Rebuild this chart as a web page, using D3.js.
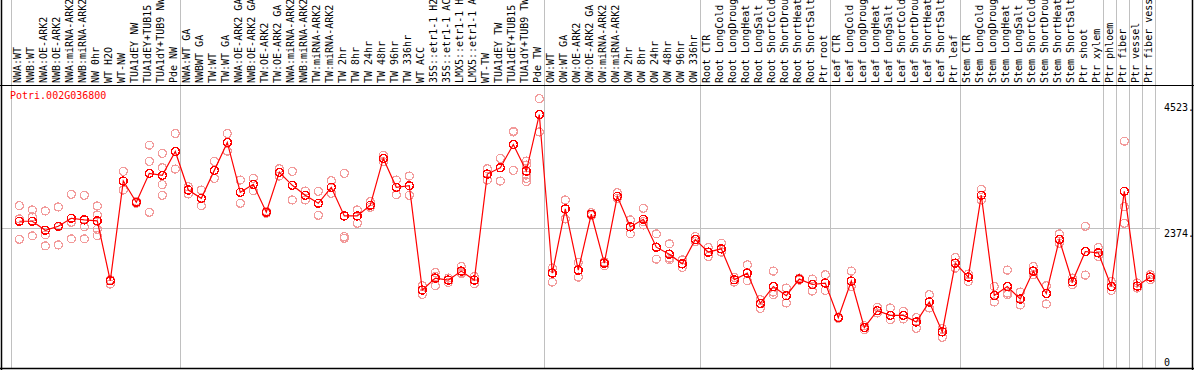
<!DOCTYPE html>
<html>
<head>
<meta charset="utf-8">
<script src="https://cdn.jsdelivr.net/npm/d3@7"></script>
<style>
  body { margin: 0; background: #fff; }
  svg { display: block; font-family: "DejaVu Sans Mono", monospace; }
</style>
</head>
<body>
<div id="chart"></div>
<script>
// Sample labels (shown truncated to 14 characters)
const labels = [
  "NWA:WT", "NWB:WT", "NWA:OE-ARK2", "NWB:OE-ARK2", "NWA:miRNA-ARK2", "NWB:miRNA-ARK2",
  "NW 0hr", "WT H2O", "WT-NW", "TUA1dEY NW", "TUA1dEY+TUB15", "TUA1dY+TUB9 NW", "Pde NW",
  "NWA:WT GA", "NWBWT GA", "TW:WT", "TW:WT GA", "NWA:OE-ARK2 GA", "NWB:OE-ARK2 GA",
  "TW:OE-ARK2", "TW:OE-ARK2 GA", "NWA:miRNA-ARK2", "NWB:miRNA-ARK2", "TW:miRNA-ARK2",
  "TW:miRNA-ARK2", "TW 2hr", "TW 8hr", "TW 24hr", "TW 48hr", "TW 96hr", "TW 336hr",
  "WT ACC", "35S::etr1-1 H2", "35S::etr1-1 AC", "LMX5::etr1-1 H", "LMX5::etr1-1 A",
  "WT-TW", "TUA1dEY TW", "TUA1dEY+TUB15", "TUA1dY+TUB9 TW", "Pde TW",
  "OW:WT", "OW:WT GA", "OW:OE-ARK2", "OW:OE-ARK2 GA", "OW:miRNA-ARK2", "OW:miRNA-ARK2",
  "OW 2hr", "OW 8hr", "OW 24hr", "OW 48hr", "OW 96hr", "OW 336hr",
  "Root CTR", "Root LongCold", "Root LongDroug", "Root LongHeat", "Root LongSalt",
  "Root ShortCold", "Root ShortDrou", "Root ShortHeat", "Root ShortSalt", "Ptr root",
  "Leaf CTR", "Leaf LongCold", "Leaf LongDroug", "Leaf LongHeat", "Leaf LongSalt",
  "Leaf ShortCold", "Leaf ShortDrou", "Leaf ShortHeat", "Leaf ShortSalt", "Ptr leaf",
  "Stem CTR", "Stem LongCold", "Stem LongDroug", "Stem LongHeat", "Stem LongSalt",
  "Stem ShortCold", "Stem ShortDrou", "Stem ShortHeat", "Stem ShortSalt", "Ptr shoot",
  "Ptr xylem", "Ptr phloem", "Ptr fiber", "Ptr vessel", "Ptr fiber vess"
];

// Mean expression per sample
const means = [
  2494, 2494, 2341, 2409, 2545, 2517, 2500, 1479, 3180, 2818, 3311, 3277, 3685,
  3027, 2886, 3362, 3838, 2988, 3124, 2648, 3328, 3107, 2937, 2801, 3073, 2585,
  2585, 2767, 3566, 3073, 3100, 1321, 1525, 1491, 1644, 1491, 3299, 3406, 3804,
  3350, 4314,
  1610, 2704, 1661, 2614, 1780, 2920, 2398, 2528, 2052, 1933, 1768, 2182,
  1967, 2024, 1496, 1610, 1093, 1382, 1224, 1508, 1416, 1440,
  850, 1474, 680, 969, 889, 889, 777, 1117, 607, 1780,
  1542, 2937, 1229, 1382, 1168, 1644, 1263, 2182, 1462, 1978, 1955,
  1382, 3005, 1389, 1542
];

// Replicate values per sample
const replicates = [
  [2760, 2188, 2534], [2687, 2245, 2573], [2670, 2262, 2074], [2738, 2091, 2400],
  [2954, 2477, 2194], [2937, 2403, 2194], [2755, 2602, 2358, 2250], [1496, 1423, 1479],
  [3345, 3027, 3180], [2800, 2818, 2835], [3792, 3515, 2648], [3651, 3406, 3120, 2937],
  [3991, 3384, 3685],
  [3083, 2959, 3027], [3027, 2760, 2886], [3515, 3226, 3362], [3991, 3690, 3838],
  [3197, 2801, 2988], [3226, 3015, 3124], [2630, 2648, 2666], [3389, 3265, 3328],
  [3345, 2857, 3107], [3010, 2857, 2937], [3005, 2597, 2801], [3185, 2971, 3073],
  [3311, 2233, 2205], [2687, 2460, 2585], [2828, 2733, 2767], [3617, 3508, 3566],
  [3197, 2947, 3073], [3265, 2937, 3100], [1394, 1246, 1321], [1620, 1394, 1552],
  [1525, 1450, 1491], [1722, 1598, 1615], [1552, 1428, 1491], [3389, 3197, 3299],
  [3566, 3180, 3406], [4018, 4030, 3362], [3520, 3452, 3282, 3226, 3168],
  [4586, 4018, 4314],
  [1695, 1457, 1610], [2857, 2534, 2704], [1791, 1542, 1661], [2590, 2614, 2640],
  [1780, 1734, 1802], [2981, 2886, 2920], [2517, 2279, 2398], [2716, 2432, 2488],
  [2279, 1848, 2052], [2109, 1836, 1865], [1836, 1706, 1768], [2233, 2148, 2182],
  [2046, 1893, 1967], [2120, 1967, 2024], [1535, 1457, 1496], [1751, 1479, 1610],
  [1156, 1008, 1093], [1644, 1241, 1287], [1355, 1100, 1224], [1490, 1508, 1525],
  [1508, 1304, 1416], [1581, 1314, 1440],
  [840, 850, 860], [1644, 1382, 1474], [714, 646, 680], [1025, 930, 969],
  [1015, 816, 889], [957, 828, 889], [850, 668, 777], [1241, 1015, 1117],
  [663, 515, 607], [1876, 1695, 1780],
  [1593, 1467, 1542], [3039, 2857, 2937], [1382, 1117, 1229], [1661, 1241, 1270],
  [1287, 1066, 1168], [1722, 1581, 1644], [1394, 1083, 1263], [2279, 2120, 2182],
  [1525, 1411, 1462], [2409, 1576, 1978], [2046, 1893, 1955],
  [1467, 1314, 1382], [3860, 2743, 2460], [1440, 1355, 1389], [1581, 1496, 1542]
];

// Index of the first sample in each group (last entry closes the final group)
const groupStarts = [0, 13, 41, 53, 63, 73, 84, 85, 86, 87, 88];

const geneName = "Potri.002G036800";
const tickValues = [0, 2374, 4523];
const tickLabels = ["0", "2374.", "4523."];
const gridValues = [2374];

// Dimensions
const W = 1194, H = 370;
const labelBottom = 85.5;
const plotBottom = 368.5;

const x = d3.scaleLinear().domain([0, labels.length - 1]).range([19.3, 1150.3]);
const y = d3.scaleLinear().domain([0, 4523]).range([367.5, 102.3]);

const svg = d3.select("#chart").append("svg")
  .attr("width", W).attr("height", H);

svg.append("rect").attr("width", W).attr("height", H).attr("fill", "#fff");

// Vertical group separators
svg.selectAll(".vgrid")
  .data(groupStarts)
  .join("line")
  .attr("class", "vgrid")
  .attr("x1", d => Math.round(x(d) - 8) + 0.5)
  .attr("x2", d => Math.round(x(d) - 8) + 0.5)
  .attr("y1", 0)
  .attr("y2", plotBottom)
  .attr("stroke", "#c0c0c0")
  .attr("stroke-width", 1);

// Horizontal reference line
svg.selectAll(".hgrid")
  .data(gridValues)
  .join("line")
  .attr("class", "hgrid")
  .attr("x1", 2)
  .attr("x2", 1160)
  .attr("y1", d => Math.round(y(d)) + 0.5)
  .attr("y2", d => Math.round(y(d)) + 0.5)
  .attr("stroke", "#c0c0c0")
  .attr("stroke-width", 1);

// Frame
svg.append("line").attr("x1", 0).attr("x2", W).attr("y1", labelBottom).attr("y2", labelBottom)
  .attr("stroke", "#000").attr("stroke-width", 1);
svg.append("line").attr("x1", 0).attr("x2", W).attr("y1", plotBottom).attr("y2", plotBottom)
  .attr("stroke", "#000").attr("stroke-width", 1.5);
svg.append("line").attr("x1", 1.5).attr("x2", 1.5).attr("y1", 0).attr("y2", H)
  .attr("stroke", "#000").attr("stroke-width", 1.5);
svg.append("line").attr("x1", 1192.5).attr("x2", 1192.5).attr("y1", 0).attr("y2", H)
  .attr("stroke", "#000").attr("stroke-width", 1.5);

// Sample labels, rotated
svg.selectAll(".lab")
  .data(labels)
  .join("text")
  .attr("class", "lab")
  .attr("transform", (d, i) => `translate(${x(i) + 2},83) rotate(-90)`)
  .attr("text-anchor", "start")
  .style("font-size", "10px")
  .attr("fill", "#000")
  .text(d => d);

// Gene name
svg.append("text")
  .attr("x", 10)
  .attr("y", 99)
  .style("font-size", "10px")
  .attr("fill", "#ff0000")
  .text(geneName);

// Right axis labels
svg.selectAll(".tick")
  .data(tickValues)
  .join("text")
  .attr("class", "tick")
  .attr("x", 1164)
  .attr("y", d => Math.min(y(d) + 8.4, 366))
  .style("font-size", "10px")
  .attr("fill", "#000")
  .text((d, i) => tickLabels[i]);

// Replicate points
const repPoints = [];
replicates.forEach((vals, i) => vals.forEach(v => repPoints.push({ i, v })));

svg.selectAll(".rep")
  .data(repPoints)
  .join("circle")
  .attr("class", "rep")
  .attr("cx", d => x(d.i))
  .attr("cy", d => y(d.v))
  .attr("r", 4)
  .attr("fill", "none")
  .attr("stroke", "#f29a9a")
  .attr("stroke-width", 1.3)
  .attr("shape-rendering", "crispEdges");

// Mean line
const line = d3.line()
  .x((d, i) => x(i))
  .y(d => y(d));

svg.append("path")
  .datum(means)
  .attr("fill", "none")
  .attr("stroke", "#ff0000")
  .attr("stroke-width", 1.2)
  .attr("d", line);

// Mean points
svg.selectAll(".mean")
  .data(means)
  .join("circle")
  .attr("class", "mean")
  .attr("cx", (d, i) => x(i))
  .attr("cy", d => y(d))
  .attr("r", 4)
  .attr("fill", "none")
  .attr("stroke", "#ff0000")
  .attr("stroke-width", 1.5)
  .attr("shape-rendering", "crispEdges");
</script>
</body>
</html>
